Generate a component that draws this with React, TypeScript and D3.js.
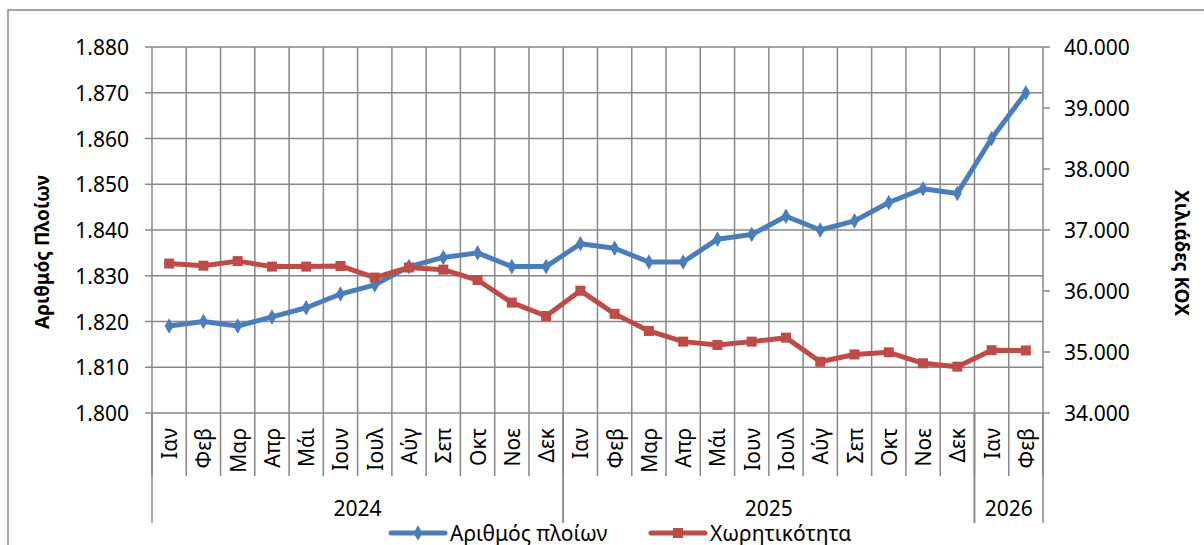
import * as d3 from "d3";

const months = [
  "Ιαν", "Φεβ", "Μαρ", "Απρ", "Μάι", "Ιουν", "Ιουλ", "Αύγ", "Σεπ", "Οκτ", "Νοε", "Δεκ",
  "Ιαν", "Φεβ", "Μαρ", "Απρ", "Μάι", "Ιουν", "Ιουλ", "Αύγ", "Σεπ", "Οκτ", "Νοε", "Δεκ",
  "Ιαν", "Φεβ",
];
const yearLabels = ["2024", "2025", "2026"];
const yearSpans = [12, 12, 2];

// Αριθμός πλοίων (left axis)
const ships = [
  1819, 1820, 1819, 1821, 1823, 1826, 1828, 1832, 1834, 1835, 1832, 1832,
  1837, 1836, 1833, 1833, 1838, 1839, 1843, 1840, 1842, 1846, 1849, 1848,
  1860, 1870,
];
// Χωρητικότητα, χιλιάδες ΚΟΧ (right axis)
const tonnage = [
  36450, 36415, 36490, 36400, 36400, 36410, 36220, 36385, 36350, 36180, 35810, 35590,
  36005, 35625, 35345, 35170, 35115, 35170, 35235, 34840, 34960, 34995, 34815, 34760,
  35030, 35025,
];
const leftTicks = [1800, 1810, 1820, 1830, 1840, 1850, 1860, 1870, 1880];
const rightTicks = [34000, 35000, 36000, 37000, 38000, 39000, 40000];

const W = 1204;
const H = 545;
const left = 152;
const right = 1043;
const top = 47;
const bottom = 413;
const FONT = "'Noto Sans', sans-serif";
const FS = 21;
const GRID = "#878787";
const BLUE = "#4A7EBB";
const RED = "#BE4B48";

const fmt = (v: number) => d3.format(",.0f")(v).replace(/,/g, ".");

export default function App() {
  const idx = months.map((_, i) => i);
  const x = d3.scaleBand<number>().domain(idx).range([left, right]);
  const bw = x.bandwidth();
  const cx = (i: number) => (x(i) as number) + bw / 2;
  const yL = d3.scaleLinear().domain([1800, 1880]).range([bottom, top]);
  const yR = d3.scaleLinear().domain([34000, 40000]).range([bottom, top]);

  const shipLine = d3.line<number>().x((_, i) => cx(i)).y((d) => yL(d));
  const tonLine = d3.line<number>().x((_, i) => cx(i)).y((d) => yR(d));
  const diamond = d3.symbol().type(d3.symbolDiamond).size(70)() as string;
  const square = d3.symbol().type(d3.symbolSquare).size(100)() as string;

  // year boundaries
  let acc = 0;
  const yearBounds = yearSpans.map((n) => {
    const s = acc;
    acc += n;
    return [s, acc];
  });

  return (
    <svg
      width={W}
      height={H}
      style={{ position: "absolute", left: 0, top: 0, background: "#fff" }}
      fontFamily={FONT}
    >
      {/* outer frame */}
      <rect x={8} y={10} width={W + 20} height={H + 20} fill="none" stroke={GRID} strokeWidth={1.5} />

      {/* horizontal grid */}
      {leftTicks.map((t) => (
        <line key={"h" + t} x1={left - 7} x2={right} y1={yL(t)} y2={yL(t)} stroke={GRID} strokeWidth={1.5} />
      ))}
      {/* right axis ticks */}
      {rightTicks.map((t) => (
        <line key={"rt" + t} x1={right} x2={right + 7} y1={yR(t)} y2={yR(t)} stroke={GRID} strokeWidth={1.5} />
      ))}
      {/* vertical grid + month dividers */}
      {d3.range(months.length + 1).map((i) => {
        const xx = left + i * bw;
        return <line key={"v" + i} x1={xx} x2={xx} y1={top} y2={476} stroke={GRID} strokeWidth={1.5} />;
      })}
      {/* year dividers */}
      {yearBounds.map(([s, e], k) => (
        <g key={"yb" + k}>
          <line x1={left + s * bw} x2={left + s * bw} y1={bottom} y2={523} stroke={GRID} strokeWidth={1.5} />
          <line x1={left + e * bw} x2={left + e * bw} y1={bottom} y2={523} stroke={GRID} strokeWidth={1.5} />
          <text
            x={left + ((s + e) / 2) * bw}
            y={508}
            fontSize={FS}
            textAnchor="middle"
            dominantBaseline="central"
            fill="#000"
          >
            {yearLabels[k]}
          </text>
        </g>
      ))}

      {/* left tick labels */}
      {leftTicks.map((t) => (
        <text key={"lt" + t} x={129} y={yL(t)} fontSize={FS} textAnchor="end" dominantBaseline="central" fill="#000">
          {fmt(t)}
        </text>
      ))}
      {/* right tick labels */}
      {rightTicks.map((t) => (
        <text key={"rl" + t} x={1064} y={yR(t)} fontSize={FS} textAnchor="start" dominantBaseline="central" fill="#000">
          {fmt(t)}
        </text>
      ))}

      {/* month labels */}
      {months.map((m, i) => (
        <text
          key={"m" + i}
          transform={`translate(${cx(i)},${428}) rotate(-90)`}
          fontSize={FS}
          textAnchor="end"
          dominantBaseline="central"
          fill="#000"
        >
          {m}
        </text>
      ))}

      {/* axis titles */}
      <text
        transform="translate(42,252) rotate(-90)"
        fontSize={19}
        fontWeight="bold"
        textAnchor="middle"
        dominantBaseline="central"
        fill="#000"
      >
        Αριθμός Πλοίων
      </text>
      <text
        transform="translate(1182,253) rotate(90)"
        fontSize={19}
        fontWeight="bold"
        textAnchor="middle"
        dominantBaseline="central"
        fill="#000"
      >
        Χιλιάδες ΚΟΧ
      </text>

      {/* series: ships */}
      <path d={shipLine(ships) as string} fill="none" stroke={BLUE} strokeWidth={5} strokeLinejoin="round" />
      {ships.map((d, i) => (
        <path key={"sd" + i} d={diamond} transform={`translate(${cx(i)},${yL(d)})`} fill={BLUE} />
      ))}
      {/* series: tonnage */}
      <path d={tonLine(tonnage) as string} fill="none" stroke={RED} strokeWidth={5} strokeLinejoin="round" />
      {tonnage.map((d, i) => (
        <path key={"td" + i} d={square} transform={`translate(${cx(i)},${yR(d)})`} fill={RED} />
      ))}

      {/* legend */}
      <g>
        <line x1={391} x2={445} y1={533} y2={533} stroke={BLUE} strokeWidth={5} strokeLinecap="round" />
        <path d={diamond} transform="translate(418,533)" fill={BLUE} />
        <text x={450} y={533} fontSize={FS} dominantBaseline="central" fill="#000">
          Αριθμός πλοίων
        </text>
        <line x1={651} x2={705} y1={533} y2={533} stroke={RED} strokeWidth={5} strokeLinecap="round" />
        <path d={square} transform="translate(678,533)" fill={RED} />
        <text x={710} y={533} fontSize={FS} dominantBaseline="central" fill="#000">
          Χωρητικότητα
        </text>
      </g>
    </svg>
  );
}
